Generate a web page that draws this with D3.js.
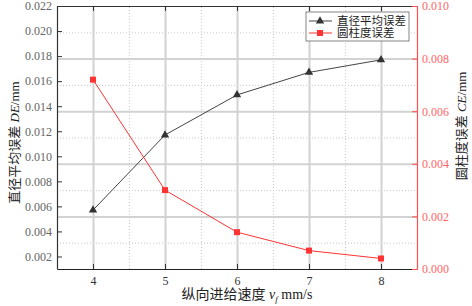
<!DOCTYPE html>
<html>
<head>
<meta charset="utf-8">
<script src="https://cdn.jsdelivr.net/npm/d3@7"></script>
<style>
  html, body { margin: 0; padding: 0; background: #fff; overflow: hidden; }
  svg { display: block; }
  text { font-family: "Liberation Serif", "Noto Sans CJK SC", serif; }
</style>
</head>
<body>
<svg width="472" height="306"></svg>
<script>
const speeds = [4, 5, 6, 7, 8];
const deValues = [0.0057, 0.0117, 0.0149, 0.0167, 0.0177];
const ceValues = [0.0072, 0.0030, 0.0014, 0.0007, 0.0004];
const leftTicks = [0.002, 0.004, 0.006, 0.008, 0.010, 0.012, 0.014, 0.016, 0.018, 0.020, 0.022];
const rightTicks = [0, 0.002, 0.004, 0.006, 0.008, 0.010];
const seriesNames = ['直径平均误差', '圆柱度误差'];

const svg = d3.select('svg');
const margin = {top: 6, right: 55, bottom: 37, left: 57};
const width = +svg.attr('width');
const height = +svg.attr('height');
const plotW = width - margin.left - margin.right;
const plotH = height - margin.top - margin.bottom;

const xScale = d3.scaleLinear().domain([3.5, 8.5]).range([0, plotW]);
const yLeft = d3.scaleLinear().domain([0.001, 0.022]).range([plotH, 0]);
const yRight = d3.scaleLinear().domain([0, 0.010]).range([plotH, 0]);

const g = svg.append('g')
    .attr('transform', `translate(${margin.left},${margin.top})`);

// 网格：次网格虚线，主网格实线
const minorX = speeds.map(d => d + 0.5).slice(0, -1);
const minorY = rightTicks.slice(0, -1).map(d => d + 0.001);

const gridMinorX = g.append('g')
    .attr('transform', `translate(0,${plotH})`)
    .call(d3.axisBottom(xScale).tickValues(minorX).tickSize(-plotH).tickFormat(''));
const gridMinorY = g.append('g')
    .call(d3.axisLeft(yRight).tickValues(minorY).tickSize(-plotW).tickFormat(''));
[gridMinorX, gridMinorY].forEach(sel => {
    sel.select('.domain').remove();
    sel.selectAll('.tick line').attr('stroke', '#c8c8c8').attr('stroke-dasharray', '1,2');
});

const gridX = g.append('g')
    .attr('transform', `translate(0,${plotH})`)
    .call(d3.axisBottom(xScale).tickValues(speeds).tickSize(-plotH).tickFormat(''));
const gridY = g.append('g')
    .call(d3.axisLeft(yRight).tickValues(rightTicks.slice(1, -1)).tickSize(-plotW).tickFormat(''));
[gridX, gridY].forEach(sel => {
    sel.select('.domain').remove();
    sel.selectAll('.tick line').attr('stroke', '#d2d2d2').attr('stroke-width', 2);
});

// 坐标轴
const xAxisG = g.append('g')
    .attr('transform', `translate(0,${plotH})`)
    .call(d3.axisBottom(xScale).tickValues(speeds).tickFormat(d3.format('d'))
        .tickSize(-5).tickPadding(7).tickSizeOuter(0));
xAxisG.select('.domain').attr('stroke', '#222').attr('stroke-width', 1.2);
xAxisG.selectAll('.tick line').attr('stroke', '#333');
xAxisG.selectAll('.tick text').attr('fill', '#333').style('font-size', '12px');

const topAxisG = g.append('g')
    .call(d3.axisTop(xScale).tickValues(speeds).tickSize(-5).tickFormat('').tickSizeOuter(0));
topAxisG.select('.domain').attr('stroke', '#333').attr('stroke-width', 1.2);
topAxisG.selectAll('.tick line').attr('stroke', '#333');

const yAxisG = g.append('g')
    .call(d3.axisLeft(yLeft).tickValues(leftTicks).tickFormat(d3.format('.3f'))
        .tickSize(-5).tickPadding(5).tickSizeOuter(0));
yAxisG.select('.domain').attr('stroke', '#333').attr('stroke-width', 1.2);
yAxisG.selectAll('.tick line').attr('stroke', '#333');
yAxisG.selectAll('.tick text').attr('fill', '#666').style('font-size', '12px');

const yRightG = g.append('g')
    .attr('transform', `translate(${plotW},0)`)
    .call(d3.axisRight(yRight).tickValues(rightTicks).tickFormat(d3.format('.3f'))
        .tickSize(-5).tickPadding(5).tickSizeOuter(0));
yRightG.select('.domain').attr('stroke', '#ff5050').attr('stroke-width', 1.2);
yRightG.selectAll('.tick line').attr('stroke', '#ff5050');
yRightG.selectAll('.tick text').attr('fill', '#ff6666').style('font-size', '12px');

// 数据线
const deData = speeds.map((s, i) => ({x: s, y: deValues[i]}));
const ceData = speeds.map((s, i) => ({x: s, y: ceValues[i]}));

g.append('path').datum(deData)
    .attr('fill', 'none').attr('stroke', '#444').attr('stroke-width', 1)
    .attr('d', d3.line().x(d => xScale(d.x)).y(d => yLeft(d.y)));
g.append('path').datum(ceData)
    .attr('fill', 'none').attr('stroke', '#ff3333').attr('stroke-width', 1)
    .attr('d', d3.line().x(d => xScale(d.x)).y(d => yRight(d.y)));

const tri = d3.symbol().type(d3.symbolTriangle).size(30);
g.selectAll('path.de-pt').data(deData).join('path')
    .attr('class', 'de-pt')
    .attr('d', tri)
    .attr('transform', d => `translate(${xScale(d.x)},${yLeft(d.y)})`)
    .attr('fill', '#333');
g.selectAll('rect.ce-pt').data(ceData).join('rect')
    .attr('class', 'ce-pt')
    .attr('x', d => xScale(d.x) - 3).attr('y', d => yRight(d.y) - 3)
    .attr('width', 6).attr('height', 6)
    .attr('fill', '#ff3333');

// 图例
const legend = g.append('g').attr('transform', `translate(${306 - margin.left},${12 - margin.top})`);
legend.append('rect').attr('width', 103).attr('height', 29)
    .attr('fill', '#fff').attr('stroke', '#666').attr('stroke-width', 0.8);
const legendColors = ['#444', '#ff3333'];
seriesNames.forEach((name, i) => {
    const ly = 9 + i * 12;
    legend.append('line').attr('x1', 3).attr('x2', 26).attr('y1', ly).attr('y2', ly)
        .attr('stroke', legendColors[i]);
    if (i === 0) {
        legend.append('path').attr('d', tri).attr('transform', `translate(14,${ly})`).attr('fill', '#333');
    } else {
        legend.append('rect').attr('x', 11).attr('y', ly - 3).attr('width', 6).attr('height', 6).attr('fill', '#ff3333');
    }
    legend.append('text').attr('x', 31).attr('y', ly + 4)
        .style('font-size', '11.5px').attr('fill', '#222').text(name);
});

// 轴标题
const leftTitle = svg.append('text')
    .attr('transform', `translate(19,${margin.top + plotH / 2 + 5}) rotate(-90)`)
    .attr('text-anchor', 'middle').style('font-size', '13px').attr('fill', '#222');
leftTitle.append('tspan').text('直径平均误差  ');
leftTitle.append('tspan').style('font-style', 'italic').text('DE');
leftTitle.append('tspan').text('/mm');

const rightTitle = svg.append('text')
    .attr('transform', `translate(466,126) rotate(-90)`)
    .attr('text-anchor', 'middle').style('font-size', '13px').attr('fill', '#222');
rightTitle.append('tspan').text('圆柱度误差  ');
rightTitle.append('tspan').style('font-style', 'italic').text('CE');
rightTitle.append('tspan').text('/mm');

const xTitle = svg.append('text')
    .attr('x', margin.left + plotW / 2 + 10).attr('y', 299)
    .attr('text-anchor', 'middle').style('font-size', '14px').attr('fill', '#222');
xTitle.append('tspan').text('纵向进给速度  ');
xTitle.append('tspan').style('font-style', 'italic').text('v');
xTitle.append('tspan').style('font-style', 'italic').style('font-size', '9px').attr('dy', 3).text('f');
xTitle.append('tspan').attr('dy', -3).text(' mm/s');
</script>
</body>
</html>
